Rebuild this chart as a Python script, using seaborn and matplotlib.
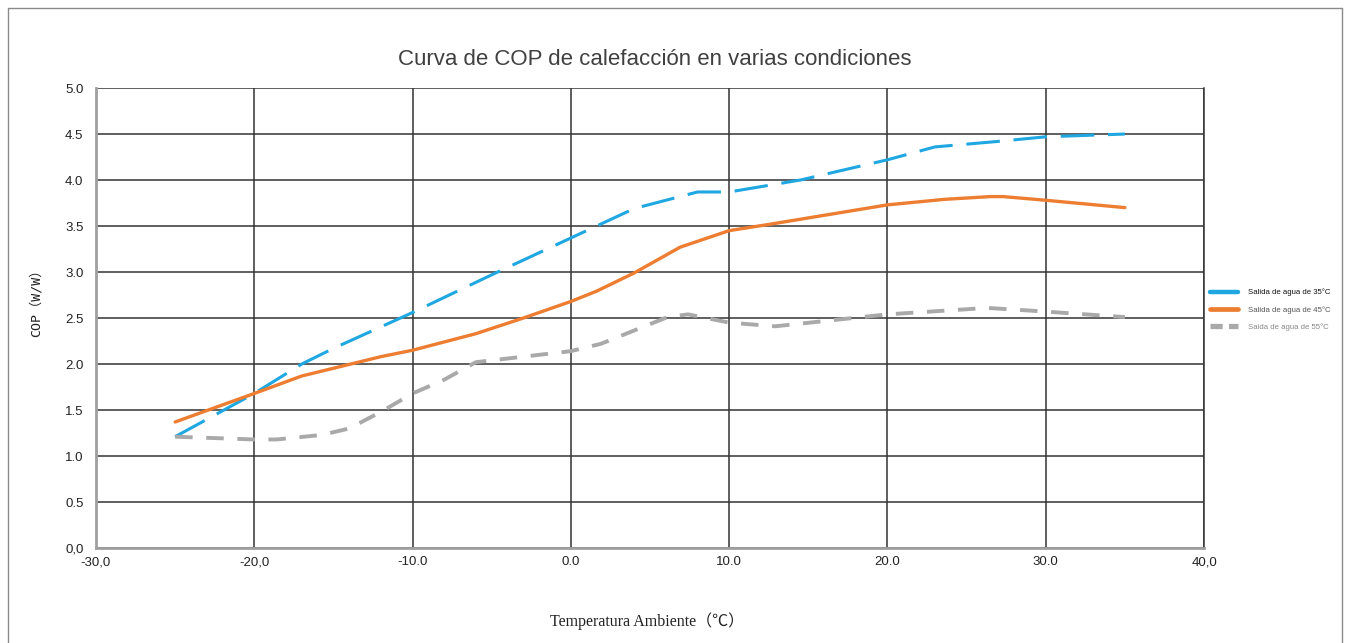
import matplotlib
matplotlib.use("Agg")
import matplotlib.pyplot as plt
import seaborn as sns
import pandas as pd
from matplotlib.lines import Line2D

# === Datos ===
temp_35 = [-25, -20, -17, -15, -10, -5, 0, 2, 4, 8, 10, 14.5, 20, 23, 27, 30, 35]
cop_35 = [1.21, 1.68, 2.0, 2.17, 2.56, 2.97, 3.37, 3.53, 3.69, 3.87, 3.87, 4.0, 4.22, 4.36, 4.42, 4.47, 4.5]

temp_45 = [-25, -20, -17, -12, -10, -6, -3, 0, 1.6, 4, 6.9, 10, 12.6, 20, 23.6, 26.5, 27.3, 30, 35]
cop_45 = [1.37, 1.68, 1.87, 2.08, 2.15, 2.33, 2.5, 2.68, 2.79, 2.99, 3.27, 3.45, 3.52, 3.73, 3.79, 3.82, 3.82, 3.78, 3.70]

temp_55 = [-25, -20, -18.6, -15.7, -14, -12, -10, -8, -6, 0, 1.9, 3.5, 6.1, 7.4, 10, 12.9, 20, 26.3, 30, 35]
cop_55 = [1.21, 1.18, 1.18, 1.23, 1.30, 1.48, 1.68, 1.83, 2.02, 2.14, 2.22, 2.33, 2.51, 2.54, 2.45, 2.41, 2.54, 2.61, 2.57, 2.51]

etiquetas = ["Salida de agua de 35°C", "Salida de agua de 45°C", "Saida de agua de 55°C"]
colores = ["#1ea7e0", "#ed7d31", "#a9a9a9"]

x_ticks = [-30, -20, -10, 0, 10, 20, 30, 40]
x_labels = ["-30,0", "-20,0", "-10.0", "0.0", "10.0", "20.0", "30.0", "40,0"]
y_ticks = [0, 0.5, 1, 1.5, 2, 2.5, 3, 3.5, 4, 4.5, 5]
y_labels = ["0,0", "0.5", "1.0", "1.5", "2.0", "2.5", "3.0", "3.5", "4.0", "4.5", "5.0"]

sns.set_style("white")
plt.rcParams['font.family'] = ['Liberation Sans', 'DejaVu Sans']

fig = plt.figure(figsize=(13.5, 6.43), dpi=100)
ax = fig.add_axes([0.0711, 0.1477, 0.8208, 0.7154])

# === Series ===
df35 = pd.DataFrame({'t': temp_35, 'cop': cop_35})
df45 = pd.DataFrame({'t': temp_45, 'cop': cop_45})
df55 = pd.DataFrame({'t': temp_55, 'cop': cop_55})

estilos = [(0, (11, 4.5)), '-', (0, (4.5, 3.5))]
anchos = [2.2, 2.4, 2.8]
for d, c, ls, lw in zip([df35, df45, df55], colores, estilos, anchos):
    sns.lineplot(data=d, x='t', y='cop', ax=ax, color=c, linestyle=ls,
                 linewidth=lw, sort=False, estimator=None, zorder=3)

ax.set_xlim(-30, 40)
ax.set_ylim(0, 5)
ax.set_xticks(x_ticks)
ax.set_xticklabels(x_labels, fontsize=9.5, color='#222222')
ax.set_yticks(y_ticks)
ax.set_yticklabels(y_labels, fontsize=9.5, color='#222222')
ax.tick_params(axis='x', length=0, pad=6)
ax.tick_params(axis='y', length=0, pad=9)
ax.grid(True, color='#333333', linewidth=1.1)
ax.set_axisbelow(True)

ax.spines['top'].set_visible(False)
ax.spines['right'].set_color('#333333')
ax.spines['right'].set_linewidth(1.1)
for s in ['left', 'bottom']:
    ax.spines[s].set_color('#a0a0a0')
    ax.spines[s].set_linewidth(2)

ax.set_xlabel('')
ax.set_ylabel('')
fig.text(0.485, 0.907, 'Curva de COP de calefacción en varias condiciones',
         ha='center', va='center', fontsize=16, color='#404040')
fig.text(0.027, 0.534, 'COP（W/W）', rotation=90, ha='center', va='center',
         fontsize=9.5, family=['DejaVu Sans Mono', 'Noto Sans CJK SC'], color='#222222')
fig.text(0.479, 0.034, 'Temperatura Ambiente（℃）', ha='center', va='center',
         fontsize=11.5, family=['Liberation Serif', 'Noto Sans CJK SC'], color='#222222')

# === Leyenda ===
handles = [Line2D([0], [0], color=c, linestyle=ls, linewidth=lw + 1)
           for c, ls, lw in zip(colores, ['-', '-', (0, (2.3, 1.2))], anchos)]
leg = fig.legend(handles, etiquetas, loc='center left', bbox_to_anchor=(0.891, 0.518),
                 frameon=False, fontsize=5.6, handlelength=3.6, labelspacing=1.25,
                 handletextpad=1.3)
for txt, col in zip(leg.get_texts(), ['#111111', '#555555', '#888888']):
    txt.set_color(col)

# === Marco exterior ===
fig.add_artist(Line2D([8 / 1350, 1342 / 1350], [1 - 8 / 643, 1 - 8 / 643],
                      transform=fig.transFigure, color='#8a8a8a', linewidth=1))
fig.add_artist(Line2D([8 / 1350, 8 / 1350], [0, 1 - 8 / 643],
                      transform=fig.transFigure, color='#8a8a8a', linewidth=1))
fig.add_artist(Line2D([1342 / 1350, 1342 / 1350], [0, 1 - 8 / 643],
                      transform=fig.transFigure, color='#8a8a8a', linewidth=1))

fig.savefig('out.png', dpi=100)
